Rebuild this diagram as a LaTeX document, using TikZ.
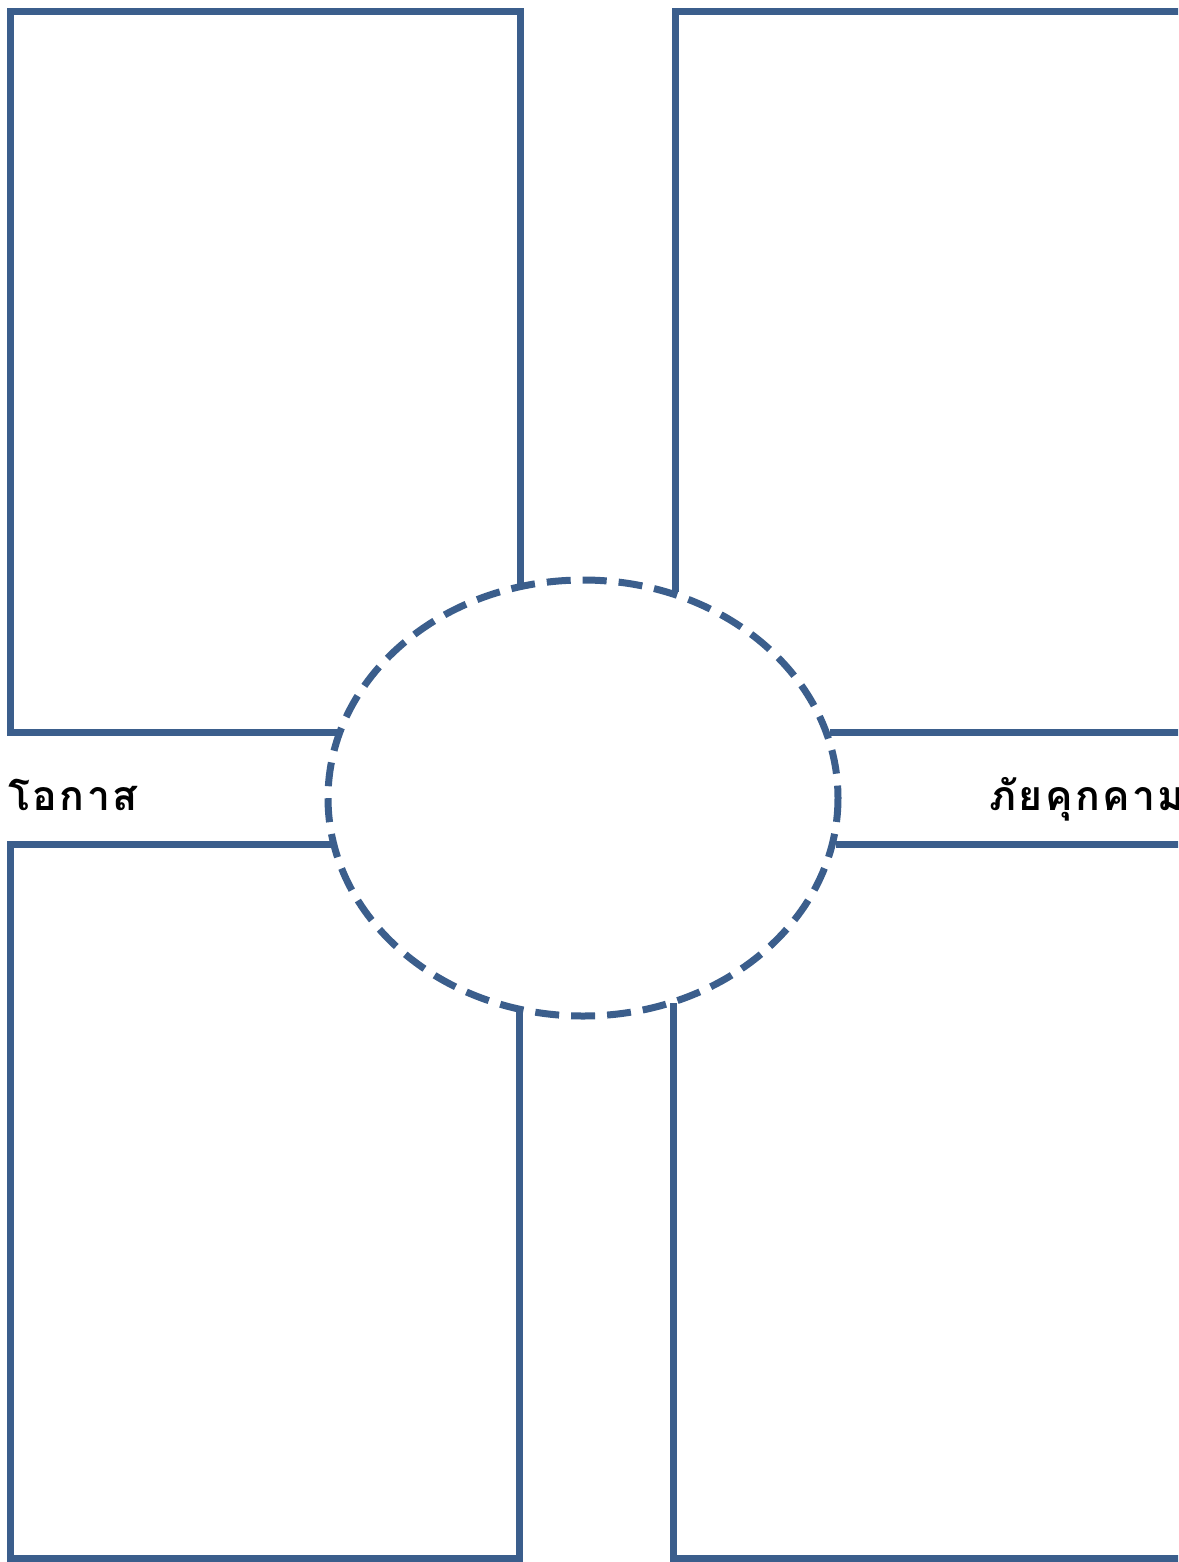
\documentclass[tikz,border=0pt]{standalone}
\usepackage{fontspec}
\newfontfamily\thaifont[Script=Thai,LetterSpace=6]{Loma}
\definecolor{frame}{HTML}{3B5E8C}
\begin{document}
\begin{tikzpicture}[x=1pt,y=-1pt,
  boxline/.style={draw=frame,line width=7pt,line join=miter},
  oval/.style={draw=frame,line width=7pt,dash pattern=on 24pt off 12pt},
  lbl/.style={font=\thaifont\bfseries\fontsize{41}{48}\selectfont,inner sep=0pt}]
\useasboundingbox (0,0) rectangle (1178,1562);
\clip (0,0) rectangle (1178,1562);
\fill[white] (0,0) rectangle (1178,1562);
% top-left
\draw[boxline] (520,585) -- (520,12) -- (10,12) -- (10,732) -- (340,732);
% top-right
\draw[boxline] (675,592) -- (675,12) -- (1190,12);
\draw[boxline] (830,732) -- (1190,732);
% bottom-left
\draw[boxline] (332,844) -- (10,844) -- (10,1558) -- (519,1558) -- (519,1010);
% bottom-right
\draw[boxline] (836,844) -- (1190,844);
\draw[boxline] (673,1003) -- (673,1558) -- (1190,1558);
% centre oval
\draw[oval] (583,798) ellipse [x radius=255, y radius=218];
\node[lbl,anchor=base west] (opp) at (8,810) {โอกาส};
\node[lbl,anchor=base west] (thr) at (989,810) {ภัยคุกคาม};
\end{tikzpicture}
\end{document}
